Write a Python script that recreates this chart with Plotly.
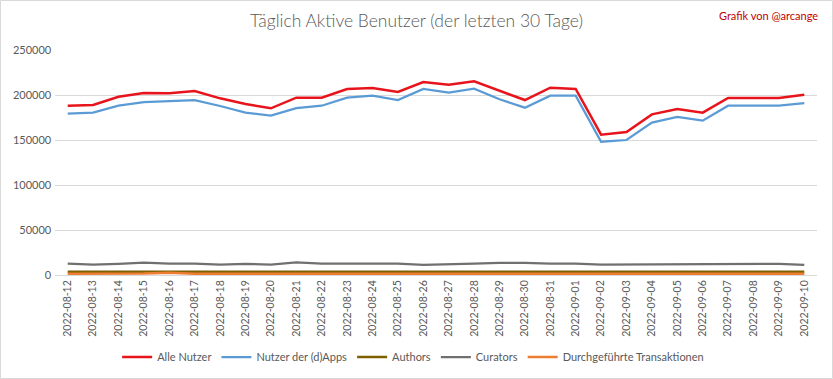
import plotly.graph_objects as go

dates = ["2022-08-12","2022-08-13","2022-08-14","2022-08-15","2022-08-16","2022-08-17",
         "2022-08-18","2022-08-19","2022-08-20","2022-08-21","2022-08-22","2022-08-23",
         "2022-08-24","2022-08-25","2022-08-26","2022-08-27","2022-08-28","2022-08-29",
         "2022-08-30","2022-08-31","2022-09-01","2022-09-02","2022-09-03","2022-09-04",
         "2022-09-05","2022-09-06","2022-09-07","2022-09-08","2022-09-09","2022-09-10"]

alle_nutzer = [188000, 189000, 198000, 202200, 202000, 204400, 196300, 190000, 185200, 197000,
               197000, 206700, 207800, 203300, 214400, 211500, 215200, 204400, 194400, 208100,
               206700, 155900, 158900, 178500, 184400, 180400, 196700, 196700, 196700, 200400]

nutzer_dapps = [179300, 180400, 188100, 192200, 193300, 194400, 187800, 180400, 177000, 185500,
                188100, 197000, 199300, 194400, 206700, 202600, 207000, 195200, 185900, 199300,
                199300, 148100, 150000, 169300, 175600, 171500, 188100, 188100, 188100, 191100]

authors = [3700, 3700, 3700, 3700, 3700, 3700, 3700, 3700, 3700, 3700,
           3700, 3700, 3700, 3700, 3700, 3700, 3700, 3700, 3700, 3700,
           3700, 3600, 3600, 3700, 3700, 3700, 3700, 3700, 3700, 3700]

curators = [12600, 11400, 12300, 13700, 12600, 12600, 11500, 12300, 11500, 14000,
            12600, 12600, 12600, 12600, 11200, 12300, 12600, 13600, 13600, 12600,
            12600, 11500, 11500, 12300, 12300, 12300, 12300, 12300, 12300, 11200]

transaktionen = [1500, 1500, 1500, 1600, 2600, 1500, 1500, 1500, 1500, 1500,
                 1500, 1500, 1500, 1500, 1500, 1500, 1500, 1500, 1500, 1500,
                 1500, 1500, 1500, 1500, 1500, 1500, 1500, 1500, 1500, 1500]

series = [
    ("Alle Nutzer", alle_nutzer, "#E8141B", 2.5),
    ("Nutzer der (d)Apps", nutzer_dapps, "#5B9BD5", 2.25),
    ("Authors", authors, "#7F6000", 2.5),
    ("Curators", curators, "#707070", 2.25),
    ("Durchgeführte Transaktionen", transaktionen, "#ED7D31", 2.5),
]

fig = go.Figure()
for name, vals, color, w in series:
    fig.add_trace(go.Scatter(x=dates, y=vals, name=name, mode="lines",
                             line=dict(color=color, width=w)))

PLOT_H = 225
PLOT_W = 762

fig.update_layout(
    width=833, height=379,
    paper_bgcolor="white", plot_bgcolor="white",
    margin=dict(l=55, r=16, t=50, b=104, autoexpand=False),
    font=dict(family="Lato, Open Sans, sans-serif", color="#595959", size=11),
    title=dict(text="Täglich Aktive Benutzer (der letzten 30 Tage)",
               x=0.5, xref="container", xanchor="center",
               y=1 - 21 / 379, yref="container", yanchor="middle",
               font=dict(size=17.5, color="#595959", family="Lato, sans-serif", weight=300)),
    showlegend=True,
    legend=dict(orientation="h", x=0.47, xanchor="center",
                y=-(357 - 275) / PLOT_H, yanchor="middle",
                font=dict(size=11, color="#595959"), itemwidth=30,
                traceorder="normal"),
    xaxis=dict(type="category", range=[-0.5, 29.5], showgrid=False, automargin=False,
               showline=True, linecolor="#D9D9D9", linewidth=1,
               tickangle=-90, ticks="", tickfont=dict(size=10.5, color="#595959"),
               zeroline=False),
    yaxis=dict(range=[0, 250000], dtick=50000, showgrid=True, gridcolor="#D9D9D9",
               gridwidth=1, zeroline=False, showline=False, ticks="", automargin=False,
               tickformat="d", tickfont=dict(size=11, color="#595959"), ticksuffix=" "),
)

fig.add_annotation(text="Grafik von @arcange", xref="paper", yref="paper",
                   x=1.0, xanchor="right", y=1 + (50 - 16) / PLOT_H, yanchor="middle",
                   xshift=3, showarrow=False,
                   font=dict(size=11, color="#C00000", family="Lato, sans-serif"))

fig.add_shape(type="rect", xref="paper", yref="paper",
              x0=-54.5 / PLOT_W, x1=1 + 15.5 / PLOT_W, y0=-103.5 / PLOT_H, y1=1 + 49.5 / PLOT_H,
              line=dict(color="#D9D9D9", width=1), layer="below")

fig.write_html("out.html", config={"displayModeBar": False},
               post_script="document.body.style.margin='0';")
